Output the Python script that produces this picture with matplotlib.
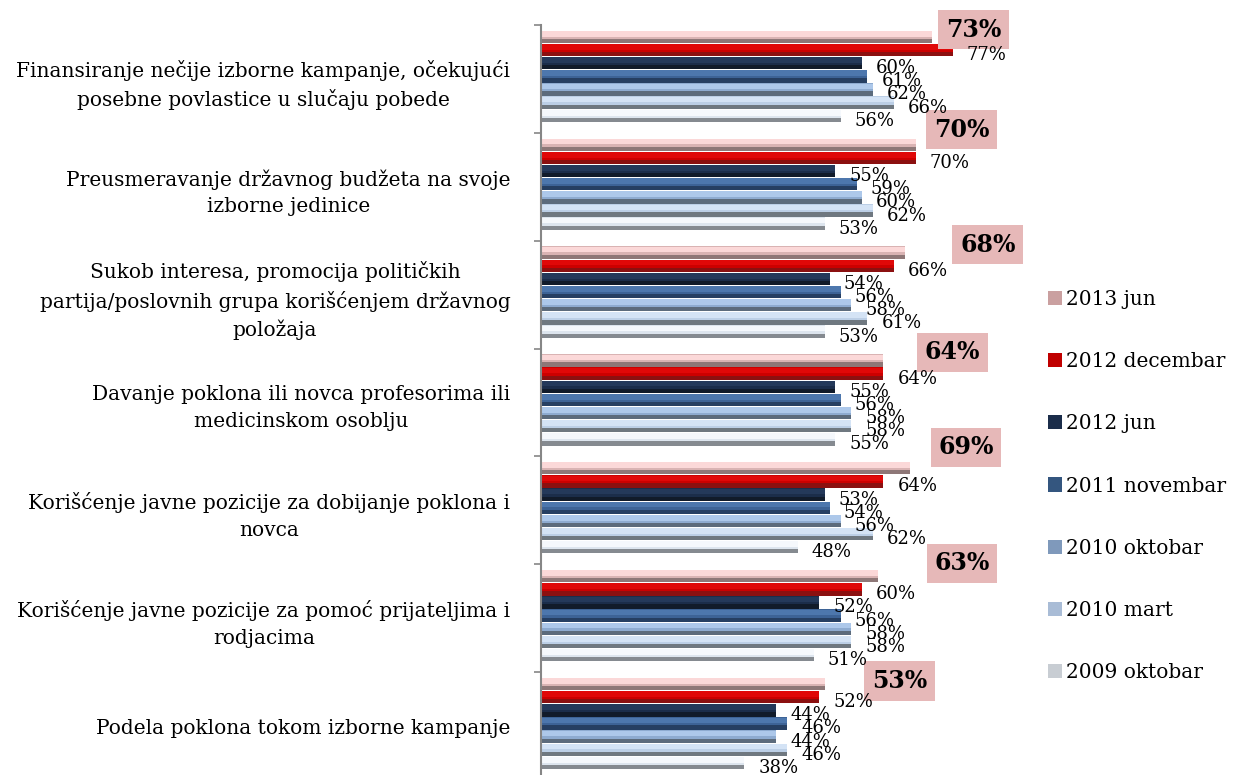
import matplotlib
matplotlib.use("Agg")
import matplotlib.pyplot as plt
import numpy as np
from matplotlib.patches import Patch

categories = [
    "Finansiranje nečije izborne kampanje, očekujući\nposebne povlastice u slučaju pobede",
    "Preusmeravanje državnog budžeta na svoje\nizborne jedinice",
    "Sukob interesa, promocija političkih\npartija/poslovnih grupa korišćenjem državnog\npoložaja",
    "Davanje poklona ili novca profesorima ili\nmedicinskom osoblju",
    "Korišćenje javne pozicije za dobijanje poklona i\nnovca",
    "Korišćenje javne pozicije za pomoć prijateljima i\nrodjacima",
    "Podela poklona tokom izborne kampanje",
]
series_names = ["2013 jun", "2012 decembar", "2012 jun", "2011 novembar",
                "2010 oktobar", "2010 mart", "2009 oktobar"]
v_2013_jun = [73, 70, 68, 64, 69, 63, 53]
v_2012_dec = [77, 70, 66, 64, 64, 60, 52]
v_2012_jun = [60, 55, 54, 55, 53, 52, 44]
v_2011_nov = [61, 59, 56, 56, 54, 56, 46]
v_2010_okt = [62, 60, 58, 58, 56, 58, 44]
v_2010_mar = [66, 62, 61, 58, 62, 58, 46]
v_2009_okt = [56, 53, 53, 55, 48, 51, 38]
series_values = [v_2013_jun, v_2012_dec, v_2012_jun, v_2011_nov,
                 v_2010_okt, v_2010_mar, v_2009_okt]

# (main, highlight, shadow)
colors = [
    ("#d9b3b3", "#fbd8d8", "#8e7777"),
    ("#cc0000", "#e00808", "#8b1010"),
    ("#1b2d4a", "#24395a", "#111b2a"),
    ("#3d6396", "#4d77ad", "#263f62"),
    ("#8eabd0", "#adc8ea", "#5c6b7c"),
    ("#bccfe6", "#d4e3f5", "#6f7880"),
    ("#dde5ee", "#f5f8fc", "#858a90"),
]
legend_colors = ["#caa0a0", "#c00000", "#1b2d4a", "#34567f", "#7f99bb", "#a9bcd6", "#c8cdd3"]

# annotation offsets (pixels) for the highlighted 2013 values
ann_offsets = [(42, -7), (46, -15), (83, -8), (69, -8), (56, -21), (84, -13), (75, -3)]

plt.rcParams['font.family'] = ['DejaVu Serif']

fig = plt.figure(figsize=(12.36, 7.75), dpi=100)
W, H = 1236, 775
x0, x1 = 541, 1076
y_top, y_bot = 25, 780
ax = fig.add_axes([x0 / W, 1 - y_bot / H, (x1 - x0) / W, (y_bot - y_top) / H])

n = len(categories)
yc = np.arange(n)
bh = 0.115
offsets = [-0.5 + 0.11 + j * 0.122 for j in range(7)]

for j, vals in enumerate(series_values):
    main, hi, sh = colors[j]
    ys = yc + offsets[j]
    ax.barh(ys, vals, height=bh, color=main, edgecolor='none')
    ax.barh(ys - bh * 0.25, vals, height=bh * 0.45, color=hi, edgecolor='none')
    ax.barh(ys + bh * 0.33, vals, height=bh * 0.34, color=sh, edgecolor='none')
    if j == 0:
        for i, v in enumerate(vals):
            dx, dy = ann_offsets[i]
            ax.annotate(f"{v}%", xy=(v, ys[i]), xytext=(dx, -dy),
                        textcoords='offset pixels', ha='center', va='center',
                        fontsize=17, fontweight='bold', color='black',
                        bbox=dict(boxstyle='square,pad=0.32', fc='#e6b8b8', ec='none'),
                        annotation_clip=False)
    else:
        for i, v in enumerate(vals):
            ax.annotate(f"{v}%", xy=(v, ys[i]), xytext=(14, -5),
                        textcoords='offset pixels', ha='left', va='center',
                        fontsize=13, color='black', annotation_clip=False)

ax.set_xlim(0, 100)
ax.set_ylim(n - 0.5, -0.5)
ax.set_yticks(yc)
ax.set_yticklabels(categories, fontsize=14.5, linespacing=1.5, ha='right',
                   multialignment='center')
ax.tick_params(axis='y', which='major', length=0, pad=22)
ax.set_yticks(np.arange(n + 1) - 0.5, minor=True)
ax.tick_params(axis='y', which='minor', length=5, color='#868686', width=1.2)
ax.set_xticks([])
for s in ['top', 'right', 'bottom']:
    ax.spines[s].set_visible(False)
ax.spines['left'].set_color('#868686')
ax.spines['left'].set_linewidth(1.5)

handles = [Patch(facecolor=c, edgecolor='none') for c in legend_colors]
fig.legend(handles, series_names, loc='center left',
           bbox_to_anchor=(1040 / W, 1 - 486 / H), frameon=False,
           fontsize=14.5, handlelength=0.7, handleheight=0.7,
           handletextpad=0.2, labelspacing=2.15, borderaxespad=0)

fig.savefig("out.png", dpi=100)
